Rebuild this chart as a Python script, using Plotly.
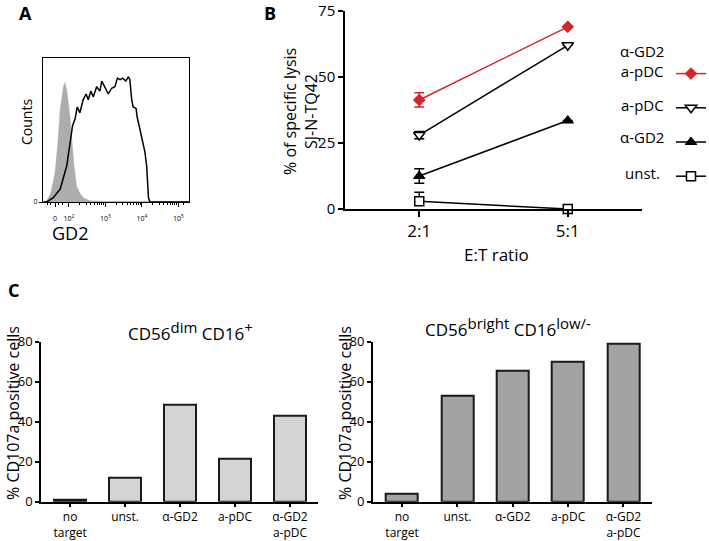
import plotly.graph_objects as go
import numpy as np

# ---------------- Panel A: GD2 flow-cytometry histogram ----------------
# channel position (display decades) and counts (% of box height)
hist_iso_x = [1.30, 1.39, 1.50, 1.62, 1.70, 1.76, 1.85, 1.89, 1.94, 1.98, 2.03,
              2.08, 2.14, 2.21, 2.30, 2.39, 2.58, 3.00, 4.00, 5.29]
hist_iso_counts = [0, 0.5, 6, 20, 42, 64, 80, 83, 78, 71, 59,
                   43, 25, 11, 6, 3, 0.8, 0.5, 0.5, 0.5]
hist_gd2_x = [1.30, 1.39, 1.57, 1.76, 1.94, 2.03, 2.10, 2.17, 2.23, 2.30, 2.39,
              2.47, 2.53, 2.60, 2.67, 2.76, 2.85, 2.90, 2.99, 3.08, 3.17, 3.26,
              3.33, 3.40, 3.47, 3.56, 3.63, 3.67, 3.72, 3.76, 3.84, 3.87, 3.95,
              4.02, 4.08, 4.13, 4.18, 4.22, 5.29]
hist_gd2_counts = [0, 0, 3, 9, 25, 39, 53, 58, 66, 62, 71,
                   75, 71, 77, 73, 80, 77, 84, 79, 75, 79, 80,
                   86, 85, 86, 84, 87, 85, 71, 66, 65, 59, 50,
                   41, 35, 25, 3, 0, 0]
flow_tick_vals = [1.62, 2, 3, 4, 5]
flow_tick_text = ["0", "10<sup>2</sup>", "10<sup>3</sup>", "10<sup>4</sup>", "10<sup>5</sup>"]

# ---------------- Panel B: specific lysis ----------------
et_ratios = ["2:1", "5:1"]
lysis_agd2_apdc = [41.3, 69.0]
lysis_agd2_apdc_err = [2.7, 0]
lysis_apdc = [28.0, 62.0]
lysis_apdc_err = [1.4, 0]
lysis_agd2 = [12.5, 33.5]
lysis_agd2_err = [2.7, 0]
lysis_unst = [2.9, 0.0]
lysis_unst_err = [3.4, 0]
lysis_ticks = [0, 25, 50, 75]

# ---------------- Panel C: CD107a degranulation ----------------
conditions = ["no<br>target", "unst.", "α-GD2", "a-pDC", "α-GD2<br>a-pDC"]
cd107a_dim = [1.2, 12.0, 48.3, 21.3, 42.8]
cd107a_bright = [3.8, 53.0, 65.5, 70.0, 79.2]
cd107a_ticks = [0, 20, 40, 60, 80]

FONT = "Open Sans"
W, H = 709, 541

def px(x):
    return x / W

def py(y):
    return 1 - y / H

fig = go.Figure()

# ---- Panel A traces
fig.add_trace(go.Scatter(x=hist_iso_x, y=hist_iso_counts, mode="lines", fill="tozeroy",
                         fillcolor="#adadad", line=dict(color="#adadad", width=0.5),
                         showlegend=False, xaxis="x", yaxis="y"))
fig.add_trace(go.Scatter(x=hist_gd2_x, y=hist_gd2_counts, mode="lines",
                         line=dict(color="black", width=1.5),
                         showlegend=False, xaxis="x", yaxis="y"))

# ---- Panel B traces
RED = "#d0282a"
series = [
    (lysis_agd2_apdc, lysis_agd2_apdc_err, lysis_agd2_apdc_err, RED,
     dict(symbol="diamond", size=9, color=RED, line=dict(color=RED, width=1))),
    (lysis_apdc, lysis_apdc_err, lysis_apdc_err, "black",
     dict(symbol="triangle-down", size=10, color="white", line=dict(color="black", width=1.5))),
    (lysis_agd2, lysis_agd2_err, lysis_agd2_err, "black",
     dict(symbol="triangle-up", size=10, color="black", line=dict(color="black", width=1))),
    (lysis_unst, lysis_unst_err, [0, 0], "black",
     dict(symbol="square", size=9, color="white", line=dict(color="black", width=1.5))),
]
for i, (vals, ep, em, col, mk) in enumerate(series):
    fig.add_trace(go.Scatter(
        x=et_ratios, y=vals, mode="lines+markers", name="",
        line=dict(color=col, width=1.5), marker=mk, cliponaxis=False,
        error_y=dict(type="data", array=ep, arrayminus=em, symmetric=False,
                     color=col, thickness=1.5, width=5),
        legendgroup=f"g{i}", showlegend=True, xaxis="x2", yaxis="y2"))

# ---- Panel C traces
bar_line = dict(color="#1a1a1a", width=2)
fig.add_trace(go.Bar(x=conditions, y=cd107a_dim, marker=dict(color="#d4d4d4", line=bar_line),
                     width=0.58, showlegend=False, xaxis="x3", yaxis="y3"))
fig.add_trace(go.Bar(x=conditions, y=cd107a_bright, marker=dict(color="#a3a3a3", line=bar_line),
                     width=0.58, showlegend=False, xaxis="x4", yaxis="y4"))

# minor ticks for flow axis (log decades)
minor_vals = [d + np.log10(k) for d in (2, 3, 4) for k in range(2, 10)] + [1.40, 1.50, 1.72, 1.82, 5.15]

axis_common = dict(showgrid=False, zeroline=False, showline=True, linecolor="black",
                   ticks="outside", tickcolor="black")

fig.update_layout(
    width=W, height=H, margin=dict(l=0, r=0, t=0, b=0, autoexpand=False),
    paper_bgcolor="white", plot_bgcolor="white",
    font=dict(family=FONT, color="black"),
    bargap=0,
    xaxis=dict(domain=[px(43), px(189)], range=[1.29, 5.29], anchor="y", mirror=True,
               linewidth=1.2, tickvals=flow_tick_vals, ticktext=flow_tick_text,
               tickfont=dict(size=7), ticklen=4, tickwidth=1, ticklabelstandoff=5,
               minor=dict(tickvals=minor_vals, ticklen=2, ticks="outside", tickcolor="black"),
               **axis_common),
    yaxis=dict(domain=[py(202), py(58)], range=[0, 100], anchor="x", mirror=True,
               linewidth=1.2, tickvals=[0], ticktext=["0"], tickfont=dict(size=7),
               ticklen=3, **axis_common),
    xaxis2=dict(domain=[px(345), px(642)], type="category", range=[-0.5, 1.5], anchor="y2",
                linewidth=1.5, ticklen=6, tickwidth=1.5, tickfont=dict(size=17), **axis_common),
    yaxis2=dict(domain=[py(209), py(11)], range=[0, 75], anchor="x2", tickvals=lysis_ticks,
                linewidth=1.5, ticklen=5, tickwidth=1.5, tickfont=dict(size=15), **axis_common),
    xaxis3=dict(domain=[px(41), px(318)], type="category", range=[-0.53, 4.51], anchor="y3",
                linewidth=2, ticklen=3, tickwidth=1.5, tickfont=dict(size=12), **axis_common),
    yaxis3=dict(domain=[py(501.7), py(341.7)], range=[0, 80], anchor="x3", tickvals=cd107a_ticks,
                linewidth=1.5, ticklen=4, tickwidth=1.5, tickfont=dict(size=13), **axis_common),
    xaxis4=dict(domain=[px(372.7), px(651.7)], type="category", range=[-0.53, 4.51], anchor="y4",
                linewidth=2, ticklen=3, tickwidth=1.5, tickfont=dict(size=12), **axis_common),
    yaxis4=dict(domain=[py(501.7), py(341.7)], range=[0, 80], anchor="x4", tickvals=cd107a_ticks,
                linewidth=1.5, ticklen=4, tickwidth=1.5, tickfont=dict(size=13), **axis_common),
    legend=dict(x=px(671), y=py(58), xanchor="left", yanchor="top", font=dict(size=14),
                tracegroupgap=13, itemwidth=30, bgcolor="rgba(0,0,0,0)", traceorder="grouped"),
)

SUP = "<sup><span style='font-size:15px'>{}</span></sup>"
ann = [
    dict(text="<b>A</b>", x=px(25), y=py(13), size=18),
    dict(text="<b>B</b>", x=px(270), y=py(13), size=18),
    dict(text="<b>C</b>", x=px(13), y=py(290), size=18),
    dict(text="Counts", x=px(27), y=py(122), size=14, angle=-90),
    dict(text="GD2", x=px(70), y=py(233), size=18),
    dict(text="% of specific lysis", x=px(290), y=py(112), size=16, angle=-90),
    dict(text="SJ-N-TQ42", x=px(311), y=py(112), size=16, angle=-90),
    dict(text="E:T ratio", x=px(496), y=py(255), size=17),
    dict(text="α-GD2<br>a-pDC", x=px(642), y=py(61), size=15),
    dict(text="a-pDC", x=px(642), y=py(105), size=15),
    dict(text="α-GD2", x=px(642), y=py(137), size=15),
    dict(text="unst.", x=px(642), y=py(173), size=15),
    dict(text="CD56" + SUP.format("dim") + " CD16" + SUP.format("+"), x=px(190), y=py(331), size=17),
    dict(text="CD56" + SUP.format("bright") + " CD16" + SUP.format("low/-"), x=px(508), y=py(327), size=17),
    dict(text="% CD107a positive cells", x=px(13), y=py(413), size=16, angle=-90),
    dict(text="% CD107a positive cells", x=px(345), y=py(413), size=16, angle=-90),
]
for a in ann:
    fig.add_annotation(text=a["text"], x=a["x"], y=a["y"], xref="paper", yref="paper",
                       showarrow=False, xanchor="center", yanchor="middle",
                       textangle=a.get("angle", 0),
                       font=dict(family=FONT, size=a["size"], color="black"))

fig.write_html("out.html", config={"displayModeBar": False},
               post_script="document.body.style.margin='0';")
